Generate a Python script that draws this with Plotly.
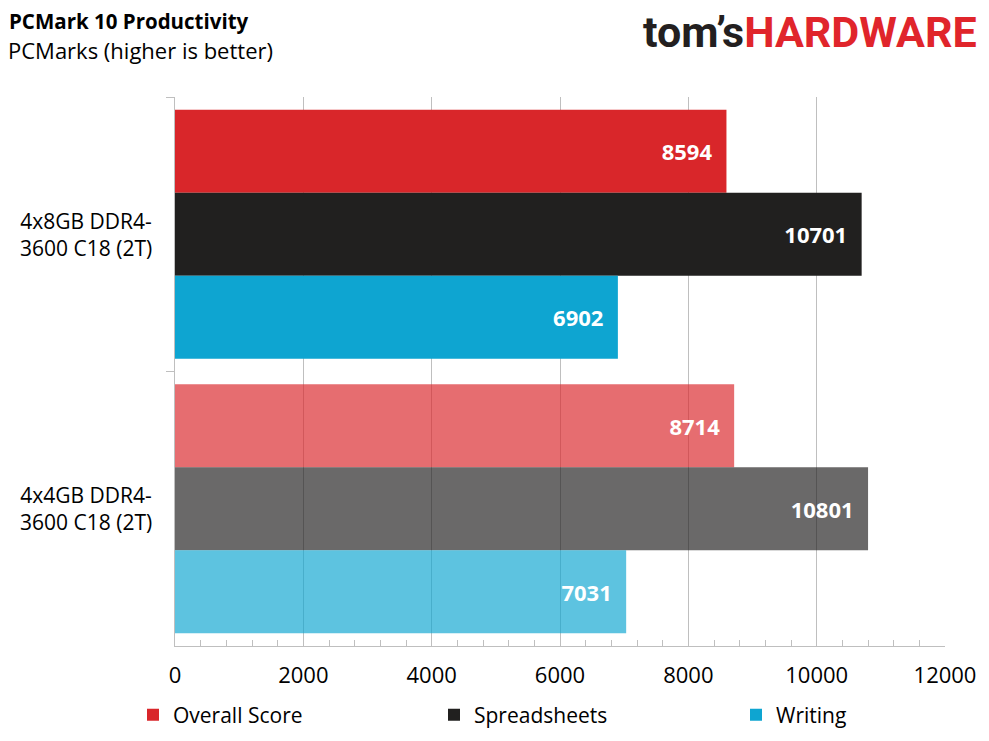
import plotly.graph_objects as go

# data
configs = ["4x8GB DDR4-3600 C18 (2T)", "4x4GB DDR4-3600 C18 (2T)"]
config_labels = ["4x8GB DDR4-<br>3600 C18 (2T)", "4x4GB DDR4-<br>3600 C18 (2T)"]
overall_score = [8594, 8714]
spreadsheets = [10701, 10801]
writing = [6902, 7031]

x_ticks = [0, 2000, 4000, 6000, 8000, 10000, 12000]
x_tick_text = ["0", "2000", "4000", "6000", "8000", "10000", "12000"]

FONT = "Open Sans"

series = [
    ("Overall Score", overall_score, "#D9262A"),
    ("Spreadsheets", spreadsheets, "#21201F"),
    ("Writing", writing, "#0EA5D1"),
]
# one legend per series so the entries can sit where the original has them
legend_ids = ["legend", "legend2", "legend3"]
legend_left_px = [133, 434, 736]

# page positions of the plot area (left / bottom) and its size, used to place
# things given in screen pixels
PX_L, PX_B, PW, PH = 175, 646, 770, 549


def px(x):
    return (x - PX_L) / PW


def py(y):
    return (PX_B - y) / PH


fig = go.Figure()
for (name, vals, color), lg in zip(series, legend_ids):
    fig.add_trace(go.Bar(
        y=configs, x=vals, name=name, orientation="h",
        marker=dict(color=color, opacity=[1, 0.67], line=dict(width=0)),
        text=[str(v) for v in vals],
        texttemplate="<b>%{text}</b>\u00a0\u00a0",
        textposition="inside", insidetextanchor="end",
        textfont=dict(family=FONT, size=22, color="white"),
        legend=lg,
    ))

# category labels, centred like the original
for cat, lab in zip(configs, config_labels):
    fig.add_annotation(
        x=px(86), xref="paper", xanchor="center", y=cat, yref="y",
        text=lab, showarrow=False, align="center",
        font=dict(family=FONT, size=21, color="#000000"),
    )

# title + subtitle
fig.add_annotation(
    x=px(7), y=py(21), xref="paper", yref="paper",
    xanchor="left", yanchor="middle", showarrow=False,
    text="<b>PCMark 10 Productivity</b>",
    font=dict(family=FONT, size=20.5, color="#000000"),
)
fig.add_annotation(
    x=px(6), y=py(50), xref="paper", yref="paper",
    xanchor="left", yanchor="middle", showarrow=False,
    text="PCMarks (higher is better)",
    font=dict(family=FONT, size=22, color="#000000"),
)

# logo
fig.add_annotation(
    x=px(979), y=py(32), xref="paper", yref="paper",
    xanchor="right", yanchor="middle", showarrow=False,
    text="<b><span style='color:#231F20'>tom’s</span><span style='color:#E0252B'>HARDWARE</span></b>",
    font=dict(family="Roboto", size=43),
)

legend_style = dict(
    orientation="h", xanchor="left", y=py(715), yanchor="middle",
    font=dict(family=FONT, size=21, color="#000000"), bgcolor="rgba(0,0,0,0)",
)

# the page adds an 8px body margin, so the figure margins are shifted by it
fig.update_layout(
    width=989, height=741,
    margin=dict(l=PX_L - 8, r=989 - (PX_L + PW - 8), t=PX_B - PH - 8, b=741 - (PX_B - 8),
                autoexpand=False),
    paper_bgcolor="white", plot_bgcolor="white",
    barmode="group", bargap=0.093, bargroupgap=0,
    font=dict(family=FONT, size=20, color="#000000"),
    showlegend=True,
    legend=dict(x=px(legend_left_px[0]), **legend_style),
    legend2=dict(x=px(legend_left_px[1]), **legend_style),
    legend3=dict(x=px(legend_left_px[2]), **legend_style),
    xaxis=dict(
        range=[0, 12000], tickvals=x_ticks, ticktext=x_tick_text,
        ticks="inside", ticklen=6,
        tickcolor="#BFBFBF", showline=True, linecolor="#BFBFBF", linewidth=1,
        showgrid=True, gridcolor="#BFBFBF", gridwidth=1, zeroline=False,
        tickfont=dict(family=FONT, size=22, color="#000000"),
        minor=dict(ticks="inside", dtick=400, ticklen=6, tickcolor="#BFBFBF", showgrid=False),
        ticklabelstandoff=10,
    ),
    yaxis=dict(
        autorange="reversed", showticklabels=False, tickson="boundaries",
        ticks="outside", ticklen=8, tickcolor="#BFBFBF",
        showline=True, linecolor="#BFBFBF", linewidth=1, showgrid=False,
    ),
)

fig.write_html("out.html")
